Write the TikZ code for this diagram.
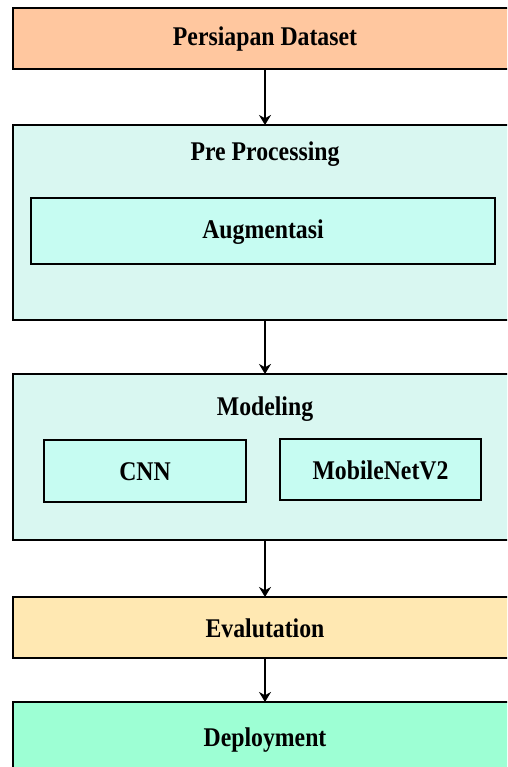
\documentclass[tikz,border=0pt]{standalone}
\usepackage{fontspec}
\setmainfont{Liberation Serif}[FakeStretch=0.88]
\usetikzlibrary{arrows.meta}
\definecolor{peach}{HTML}{FFC79F}
\definecolor{paleteal}{HTML}{D9F7F1}
\definecolor{innercyan}{HTML}{C6FCF2}
\definecolor{evalyellow}{HTML}{FFE8B2}
\definecolor{deploygreen}{HTML}{9DFFD4}
\tikzset{
  box/.style={draw=black, line width=2.8pt, rectangle, inner sep=0pt, outer sep=0pt},
  lbl/.style={font=\fontsize{27}{30}\selectfont\bfseries, text=black, inner sep=0pt},
  flow/.style={line width=2.6pt, -{Stealth[length=10pt,width=12pt]}},
}
\begin{document}
\begin{tikzpicture}[x=1pt,y=-1pt]
\useasboundingbox (0,0) rectangle (507,767);
\clip (0,0) rectangle (507,767);
\fill[white] (0,0) rectangle (507,767);
% main stages
\node[box, fill=peach, minimum width=504pt, minimum height=61pt] (prep) at (265,38.5) {};
\node[lbl] (prept) at (265,39.5) {Persiapan Dataset};
\node[box, fill=paleteal, minimum width=504pt, minimum height=195pt] (pre) at (265,222.5) {};
\node[lbl] (pret) at (265,154) {Pre Processing};
\node[box, fill=innercyan, minimum width=464pt, minimum height=66pt] (aug) at (263,231) {};
\node[lbl] (augt) at (263,232) {Augmentasi};
\node[box, fill=paleteal, minimum width=504pt, minimum height=166pt] (mod) at (265,457) {};
\node[lbl] (modt) at (265,409) {Modeling};
\node[box, fill=innercyan, minimum width=202pt, minimum height=62pt] (cnn) at (145,471) {};
\node[lbl] (cnnt) at (145,472) {CNN};
\node[box, fill=innercyan, minimum width=201pt, minimum height=61pt] (mob) at (380.5,469.5) {};
\node[lbl] (mobt) at (380.5,470) {MobileNetV2};
\node[box, fill=evalyellow, minimum width=504pt, minimum height=61pt] (eval) at (265,627.5) {};
\node[lbl] (evalt) at (265,628.5) {Evalutation};
\node[box, fill=deploygreen, minimum width=504pt, minimum height=76pt] (dep) at (265,740) {};
\node[lbl] (dept) at (265,740) {Deployment};
% connectors
\draw[flow] (prep.south) -- (pre.north);
\draw[flow] (pre.south) -- (mod.north);
\draw[flow] (mod.south) -- (eval.north);
\draw[flow] (eval.south) -- (dep.north);
\end{tikzpicture}
\end{document}
